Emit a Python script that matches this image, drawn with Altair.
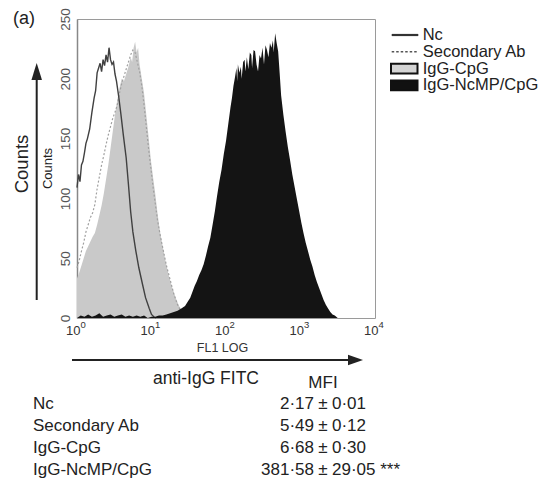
import altair as alt
import pandas as pd

# ---------------- data (x = log10 FL1 channel, y = counts) ----------------
nc_log = [0.00, 0.02, 0.04, 0.06, 0.08, 0.10, 0.12, 0.14, 0.17, 0.20, 0.23, 0.25, 0.27, 0.29,
          0.31, 0.33, 0.35, 0.37, 0.39, 0.41, 0.43, 0.45, 0.47, 0.49, 0.51, 0.53, 0.56, 0.59,
          0.62, 0.66, 0.69, 0.72, 0.75, 0.79, 0.83, 0.88, 0.92, 0.97, 1.00, 1.03, 1.06]
nc_counts = [109, 120, 114, 128, 131, 138, 146, 150, 158, 172, 184, 190, 205, 209,
             213, 206, 216, 211, 220, 214, 226, 216, 212, 214, 204, 198, 185, 170,
             154, 134, 112, 89, 72, 56, 42, 28, 17, 8, 3, 1, 0]

sec_log = [0.00, 0.03, 0.06, 0.09, 0.12, 0.15, 0.18, 0.21, 0.24, 0.27, 0.30, 0.33, 0.36, 0.39,
           0.42, 0.45, 0.48, 0.51, 0.54, 0.57, 0.60, 0.63, 0.66, 0.69, 0.72, 0.75, 0.78, 0.81,
           0.84, 0.87, 0.90, 0.93, 0.96, 0.99, 1.02, 1.05, 1.08, 1.12, 1.16, 1.20, 1.25, 1.30,
           1.35, 1.40, 1.45, 1.50]
sec_counts = [42, 48, 56, 63, 72, 78, 84, 88, 95, 108, 118, 128, 136, 145,
              153, 160, 167, 172, 178, 188, 196, 202, 208, 214, 220, 224, 222, 214,
              206, 194, 178, 160, 142, 126, 110, 96, 82, 68, 56, 44, 32, 20,
              11, 5, 1, 0]

cpg_log = [0.00, 0.03, 0.06, 0.09, 0.12, 0.15, 0.18, 0.21, 0.24, 0.27, 0.30, 0.33, 0.36, 0.39,
           0.42, 0.45, 0.48, 0.51, 0.54, 0.57, 0.60, 0.63, 0.66, 0.69, 0.72, 0.74, 0.76, 0.78,
           0.80, 0.82, 0.84, 0.87, 0.90, 0.93, 0.96, 0.99, 1.02, 1.05, 1.08, 1.11, 1.15, 1.19,
           1.23, 1.28, 1.33, 1.37, 1.42, 1.47, 1.53]
cpg_counts = [33, 38, 44, 50, 56, 60, 64, 68, 71, 78, 86, 94, 104, 116,
              128, 142, 156, 170, 182, 192, 200, 198, 204, 210, 218, 214, 226, 231,
              222, 226, 212, 200, 188, 170, 152, 133, 118, 104, 88, 74, 60, 47,
              36, 25, 16, 10, 5, 2, 0]

ncmp_log = [0.00, 0.05, 0.10, 0.15, 0.20, 0.25, 0.30, 0.35, 0.40, 0.45, 0.50, 0.55, 0.60, 0.65,
            0.70, 0.75, 0.80, 0.85, 0.90, 0.95, 1.00, 1.05, 1.10, 1.15, 1.20, 1.25, 1.30, 1.35,
            1.40, 1.45, 1.49, 1.52, 1.55, 1.58, 1.61, 1.64, 1.67, 1.70, 1.73, 1.76, 1.79, 1.82,
            1.85, 1.88, 1.91, 1.94, 1.97, 2.00, 2.03, 2.06, 2.08, 2.10, 2.12, 2.14, 2.15, 2.16,
            2.18, 2.20, 2.21, 2.23, 2.25, 2.26, 2.28, 2.30, 2.32, 2.34, 2.35, 2.37, 2.39, 2.41,
            2.43, 2.45, 2.47, 2.49, 2.51, 2.53, 2.55, 2.57, 2.59, 2.61, 2.63, 2.64, 2.66, 2.68,
            2.70, 2.72, 2.74, 2.77, 2.80, 2.83, 2.86, 2.89, 2.92, 2.95, 2.98, 3.01, 3.04, 3.07,
            3.10, 3.13, 3.16, 3.19, 3.22, 3.25, 3.28, 3.31, 3.34, 3.37, 3.40, 3.43, 3.46, 3.50]
ncmp_counts = [0, 2, 1, 3, 1, 2, 4, 1, 2, 3, 1, 2, 3, 1,
               2, 1, 2, 1, 2, 0, 1, 1, 2, 2, 3, 4, 5, 6,
               8, 10, 14, 17, 22, 27, 31, 36, 40, 45, 52, 60, 67, 78,
               89, 102, 114, 124, 137, 148, 162, 176, 184, 194, 201, 209, 198, 212,
               205, 210, 200, 214, 216, 206, 218, 208, 222, 220, 209, 224, 223, 212,
               206, 220, 217, 226, 212, 228, 224, 218, 230, 226, 232, 222, 238, 230,
               223, 205, 186, 170, 156, 143, 132, 120, 110, 100, 90, 80, 71, 63,
               56, 49, 43, 36, 30, 25, 20, 15, 11, 8, 5, 3, 2, 0]

groups = ["Nc", "Secondary Ab", "IgG-CpG", "IgG-NcMP/CpG"]
mfi_mean = [2.17, 5.49, 6.68, 381.58]
mfi_sd = [0.01, 0.12, 0.30, 29.05]
mfi_sig = ["", "", "", "***"]
x_ticks = [0, 1, 2, 3, 4]
x_exp = ["0", "1", "2", "3", "4"]
y_ticks = [0, 50, 100, 150, 200, 250]

# ---------------- styling ----------------
FONT = "Liberation Sans"
W, H = 298, 299
TXT = "#222222"
one = pd.DataFrame({"k": [0]})


def hist_df(logs, counts):
    return pd.DataFrame({"log_fl1": logs, "count": counts})


hist_x = alt.X("log_fl1:Q", scale=alt.Scale(domain=[0, 4], nice=False, zero=False), axis=None)
y_axis = alt.Axis(values=y_ticks, labelAngle=270, labelAlign="center", labelBaseline="bottom",
                  ticks=False, labelPadding=5, labelFont=FONT, labelFontSize=13.5,
                  labelColor="#555555", domainColor="#888888", domainWidth=1.5,
                  grid=False, title=None)
hist_y = alt.Y("count:Q", scale=alt.Scale(domain=[0, 250], nice=False), axis=y_axis)

gray = alt.Chart(hist_df(cpg_log, cpg_counts)).mark_area(color="#c9c9c9").encode(x=hist_x, y=hist_y)
sec = alt.Chart(hist_df(sec_log, sec_counts)).mark_line(
    color="#a0a0a0", strokeDash=[2, 2], strokeWidth=1.2).encode(x=hist_x, y=hist_y)
nc = alt.Chart(hist_df(nc_log, nc_counts)).mark_line(
    color="#404040", strokeWidth=1.4).encode(x=hist_x, y=hist_y)
black = alt.Chart(hist_df(ncmp_log, ncmp_counts)).mark_area(color="#141414").encode(x=hist_x, y=hist_y)


def txt(text, x, y, size=18, align="center", angle=None, color=TXT):
    kw = dict(text=text, font=FONT, fontSize=size, align=align, baseline="middle", color=color)
    if angle is not None:
        kw["angle"] = angle
    return alt.Chart(one).mark_text(**kw).encode(x=alt.value(x), y=alt.value(y))


layers = [gray, sec, nc, black]

# x tick labels 10^n
tick_df = pd.DataFrame({"log_fl1": x_ticks, "exp": x_exp})
tick_x = alt.X("log_fl1:Q", scale=alt.Scale(domain=[0, 4], nice=False, zero=False), axis=None)
layers.append(alt.Chart(tick_df).mark_text(text="10", font=FONT, fontSize=13, align="right",
                                           baseline="middle", dx=3.5, color="#333333")
              .encode(x=tick_x, y=alt.value(312)))
layers.append(alt.Chart(tick_df).mark_text(font=FONT, fontSize=9.5, align="left",
                                           baseline="middle", dx=3.5, color="#333333")
              .encode(x=tick_x, y=alt.value(305.5), text="exp:N"))

# axis texts
layers.append(txt("FL1 LOG", 145.5, 328.5, size=12.5, color="#333333"))
layers.append(txt("Counts", -29.5, 149.5, size=13, angle=270))
layers.append(txt("Counts", -55.5, 145, size=18.5, angle=270))
layers.append(txt("(a)", -53, 0, size=18))
layers.append(txt("anti-IgG FITC", 129, 360, size=17.5))

# arrows
layers.append(alt.Chart(one).mark_rule(color="#222222", strokeWidth=2)
              .encode(x=alt.value(-40.3), y=alt.value(281), y2=alt.value(52)))
layers.append(alt.Chart(one).mark_point(shape="M0,-1L0.62,1L-0.62,1Z", filled=True, size=289,
                                        color="#222222", opacity=1)
              .encode(x=alt.value(-40.3), y=alt.value(52.5)))
layers.append(alt.Chart(one).mark_rule(color="#222222", strokeWidth=2)
              .encode(x=alt.value(-5), x2=alt.value(274), y=alt.value(341)))
layers.append(alt.Chart(one).mark_point(shape="M1,0L-1,-0.7L-1,0.7Z", filled=True, size=225,
                                        color="#222222", opacity=1)
              .encode(x=alt.value(278.5), y=alt.value(341)))

# legend (drawn by hand, right of plot)
leg_y = [16, 32.8, 49.6, 66.4]
layers.append(alt.Chart(one).mark_rule(color="#333333", strokeWidth=2.2)
              .encode(x=alt.value(314.7), x2=alt.value(341.3), y=alt.value(leg_y[0])))
layers.append(alt.Chart(one).mark_rule(color="#555555", strokeWidth=1.5, strokeDash=[2.5, 2])
              .encode(x=alt.value(314.7), x2=alt.value(341.3), y=alt.value(leg_y[1])))
layers.append(alt.Chart(one).mark_rect(fill="#d4d4d4", stroke="#111111", strokeWidth=2)
              .encode(x=alt.value(314), x2=alt.value(340.5), y=alt.value(leg_y[2] - 4.8),
                      y2=alt.value(leg_y[2] + 4.8)))
layers.append(alt.Chart(one).mark_rect(fill="#111111", stroke="#111111", strokeWidth=2)
              .encode(x=alt.value(314), x2=alt.value(340.5), y=alt.value(leg_y[3] - 4.8),
                      y2=alt.value(leg_y[3] + 4.8)))
for g, ly in zip(groups, leg_y):
    layers.append(txt(g, 345.7, ly, size=16.5, align="left"))

# MFI table
layers.append(txt("MFI", 246, 364, size=17))
row_y = [385, 407, 429, 451]
for g, m, s, sig, ry in zip(groups, mfi_mean, mfi_sd, mfi_sig, row_y):
    layers.append(txt(g, -44, ry, size=17, align="left"))
    layers.append(txt(f"{m:.2f}".replace(".", "·"), 237, ry, size=17, align="right"))
    layers.append(txt("±", 246, ry, size=17))
    sd_txt = f"{s:.2f}".replace(".", "·") + (" " + sig if sig else "")
    layers.append(txt(sd_txt, 255, ry, size=17, align="left"))

chart = (
    alt.layer(*layers)
    .properties(width=W, height=H,
                padding={"left": 69, "top": 11, "right": 177, "bottom": 164},
                autosize=alt.AutoSizeParams(type="none"))
    .configure_view(stroke="#9a9a9a", strokeWidth=1)
)

chart.save("out.html", embed_options={"renderer": "svg", "actions": False})
